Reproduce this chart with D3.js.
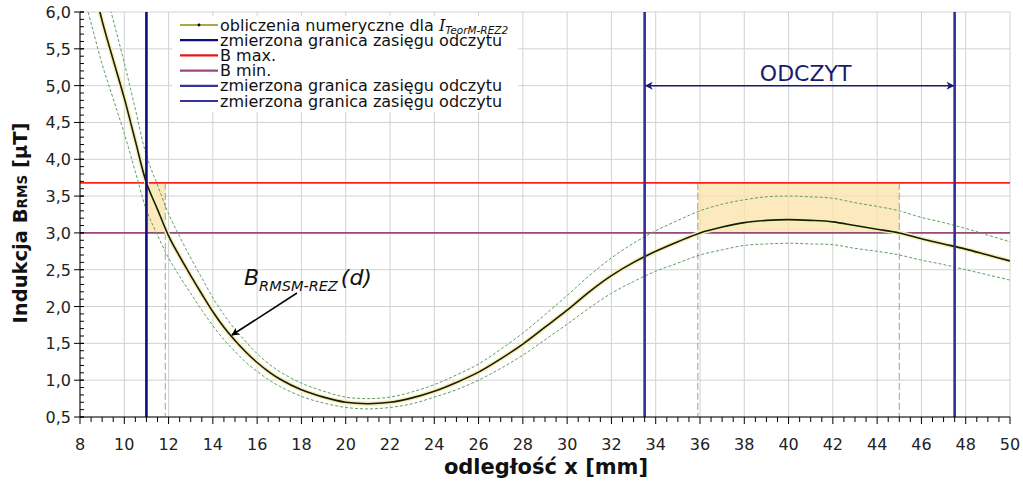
<!DOCTYPE html>
<html>
<head>
<meta charset="utf-8">
<script src="https://cdn.jsdelivr.net/npm/d3@7"></script>
<style>
  html, body { margin: 0; padding: 0; background: #ffffff; }
  svg { display: block; }
</style>
</head>
<body>
<script>
// odległość x [mm]
const xValues = [8, 8.5, 9, 9.5, 10, 10.5, 11, 11.5, 12, 12.5, 13, 13.5, 14, 14.5, 15, 15.5, 16, 16.5, 17,
  18, 19, 20, 21, 22, 23, 24, 25, 26, 27, 28, 29, 30, 31, 32, 33, 34, 35, 36, 37, 38, 39, 40,
  41, 42, 43, 44, 45, 46, 47, 48, 49, 50];
// B_RMS [uT] - obliczenia numeryczne
const bMain = [7.1, 6.5, 5.88, 5.35, 4.83, 4.25, 3.68, 3.32, 2.96, 2.68, 2.42, 2.17, 1.93, 1.72, 1.54, 1.38, 1.24, 1.12, 1.02,
  0.87, 0.77, 0.70, 0.68, 0.70, 0.76, 0.85, 0.97, 1.11, 1.29, 1.49, 1.72, 1.95, 2.20, 2.42, 2.60, 2.75, 2.88, 3.0, 3.08, 3.14, 3.17, 3.18,
  3.17, 3.15, 3.10, 3.05, 3.0, 2.92, 2.85, 2.78, 2.70, 2.62];
// górna i dolna granica (linie kreskowane)
const bUpper = [7.81, 7.15, 6.47, 5.89, 5.31, 4.68, 4.05, 3.65, 3.26, 2.95, 2.66, 2.39, 2.12, 1.89, 1.69, 1.52, 1.36, 1.23, 1.12,
  0.96, 0.85, 0.77, 0.75, 0.77, 0.84, 0.94, 1.07, 1.22, 1.42, 1.64, 1.89, 2.15, 2.42, 2.66, 2.86, 3.03, 3.17, 3.30, 3.39, 3.45, 3.49, 3.50,
  3.49, 3.47, 3.41, 3.36, 3.30, 3.21, 3.14, 3.06, 2.97, 2.88];
const bLower = [6.39, 5.85, 5.29, 4.82, 4.35, 3.83, 3.31, 2.97, 2.66, 2.41, 2.18, 1.95, 1.74, 1.55, 1.39, 1.24, 1.12, 1.01, 0.92,
  0.78, 0.69, 0.63, 0.61, 0.63, 0.68, 0.77, 0.87, 1.00, 1.16, 1.34, 1.55, 1.76, 1.98, 2.18, 2.34, 2.48, 2.59, 2.70, 2.77, 2.83, 2.85, 2.86,
  2.85, 2.84, 2.79, 2.75, 2.70, 2.63, 2.57, 2.50, 2.43, 2.36];

const xTicks = [8, 10, 12, 14, 16, 18, 20, 22, 24, 26, 28, 30, 32, 34, 36, 38, 40, 42, 44, 46, 48, 50];
const yTicks = [0.5, 1.0, 1.5, 2.0, 2.5, 3.0, 3.5, 4.0, 4.5, 5.0, 5.5, 6.0];

const bMax = 3.68;
const bMin = 3.0;
const boundaries = [11, 33.5, 47.5];
const crossings = [11.85, 35.9, 45];
const readRange = [33.5, 47.5];
const readLevel = 5.0;
const shaded = [[11, 11.85], [35.9, 45]];

const legendItems = [
  { label: 'obliczenia numeryczne dla ', sym: 'I', sub: 'TeorM-REZ2', color: '#8c8c10', dot: true },
  { label: 'zmierzona granica zasięgu odczytu', color: '#0c0c80' },
  { label: 'B max.', color: '#e81818' },
  { label: 'B min.', color: '#9a4a78' },
  { label: 'zmierzona granica zasięgu odczytu', color: '#34349a' },
  { label: 'zmierzona granica zasięgu odczytu', color: '#34349a' }
];

const width = 1023;
const height = 489;
const margin = { top: 12, right: 13, bottom: 72, left: 80 };
const innerWidth = width - margin.left - margin.right;
const innerHeight = height - margin.top - margin.bottom;
const font = 'Verdana, "DejaVu Sans", sans-serif';

const svg = d3.select('body').append('svg')
  .attr('width', width)
  .attr('height', height)
  .style('background', '#ffffff');

const defs = svg.append('defs');
defs.append('clipPath').attr('id', 'plot-clip')
  .append('rect').attr('width', innerWidth).attr('height', innerHeight);
[['arrow-navy', '#1a1a70'], ['arrow-black', '#000000']].forEach(([id, c]) => {
  defs.append('marker')
    .attr('id', id)
    .attr('viewBox', '0 0 10 10')
    .attr('refX', 9).attr('refY', 5)
    .attr('markerWidth', 10).attr('markerHeight', 8)
    .attr('markerUnits', 'userSpaceOnUse')
    .attr('orient', 'auto-start-reverse')
    .append('path').attr('d', 'M0,0 L10,5 L0,10 L3,5 Z').attr('fill', c);
});

const chart = svg.append('g').attr('transform', `translate(${margin.left},${margin.top})`);

const x = d3.scaleLinear().domain([8, 50]).range([0, innerWidth]);
const y = d3.scaleLinear().domain([0.5, 6.0]).range([innerHeight, 0]);

// grid
chart.append('g').attr('stroke', '#d2d2d2').attr('stroke-width', 1)
  .selectAll('line.v').data(xTicks).enter().append('line')
  .attr('x1', d => x(d)).attr('x2', d => x(d)).attr('y1', 0).attr('y2', innerHeight);
chart.append('g').attr('stroke', '#d2d2d2').attr('stroke-width', 1)
  .selectAll('line.h').data(yTicks).enter().append('line')
  .attr('x1', 0).attr('x2', innerWidth).attr('y1', d => y(d)).attr('y2', d => y(d));

const plot = chart.append('g').attr('clip-path', 'url(#plot-clip)');

// shaded ranges
plot.selectAll('rect.shade').data(shaded).enter().append('rect')
  .attr('x', d => x(d[0]))
  .attr('width', d => x(d[1]) - x(d[0]))
  .attr('y', y(bMax))
  .attr('height', y(bMin) - y(bMax))
  .attr('fill', '#fbe3a8')
  .attr('opacity', 0.75);

// dashed crossing lines
plot.selectAll('line.cross').data(crossings).enter().append('line')
  .attr('x1', d => x(d)).attr('x2', d => x(d))
  .attr('y1', y(bMax)).attr('y2', innerHeight)
  .attr('stroke', '#a0a0a0').attr('stroke-width', 1)
  .attr('stroke-dasharray', '7,3');

// B max / B min
plot.append('line').attr('x1', 0).attr('x2', innerWidth)
  .attr('y1', y(bMax)).attr('y2', y(bMax))
  .attr('stroke', '#ff2020').attr('stroke-width', 1.6);
plot.append('line').attr('x1', 0).attr('x2', innerWidth)
  .attr('y1', y(bMin)).attr('y2', y(bMin))
  .attr('stroke', '#9a4a78').attr('stroke-width', 1.6);

const line = (vals) => d3.line()
  .x((d, i) => x(xValues[i]))
  .y(d => y(d))
  .curve(d3.curveCatmullRom)(vals);

// tolerance bands
[bUpper, bLower].forEach(vals => {
  plot.append('path').attr('d', line(vals))
    .attr('fill', 'none')
    .attr('stroke', '#5f9f62')
    .attr('stroke-width', 1)
    .attr('stroke-dasharray', '3,2');
});

// main curve
plot.append('path').attr('d', line(bMain))
  .attr('fill', 'none').attr('stroke', '#f2f0b8').attr('stroke-width', 4.5);
plot.append('path').attr('d', line(bMain))
  .attr('fill', 'none').attr('stroke', '#1c1a04').attr('stroke-width', 1.6);

// measured boundaries
plot.selectAll('line.bound').data(boundaries).enter().append('line')
  .attr('x1', d => x(d)).attr('x2', d => x(d))
  .attr('y1', 0).attr('y2', innerHeight)
  .attr('stroke', (d, i) => i === 0 ? '#0c0c80' : '#30309a')
  .attr('stroke-width', 2.6);

// ODCZYT arrow
chart.append('line')
  .attr('x1', x(readRange[0]) + 1).attr('x2', x(readRange[1]) - 1)
  .attr('y1', y(readLevel)).attr('y2', y(readLevel))
  .attr('stroke', '#1a1a70').attr('stroke-width', 1.5)
  .attr('marker-start', 'url(#arrow-navy)')
  .attr('marker-end', 'url(#arrow-navy)');
chart.append('text')
  .attr('x', x((readRange[0] + readRange[1]) / 2) + 6)
  .attr('y', y(readLevel) - 5)
  .attr('text-anchor', 'middle')
  .attr('font-family', font)
  .attr('font-size', 22)
  .attr('fill', '#1a1a6e')
  .text('ODCZYT');

// curve annotation
chart.append('line')
  .attr('x1', 217).attr('x2', 152)
  .attr('y1', 281).attr('y2', 323)
  .attr('stroke', '#000').attr('stroke-width', 1.5)
  .attr('marker-end', 'url(#arrow-black)');
const ann = chart.append('text')
  .attr('x', 164).attr('y', 273)
  .attr('font-family', font)
  .attr('font-style', 'italic')
  .attr('font-size', 22)
  .attr('fill', '#111');
ann.append('tspan').text('B');
ann.append('tspan').attr('font-size', 14.5).attr('dy', 6).text('RMSM-REZ');
ann.append('tspan').attr('dy', -6).attr('dx', 3).text('(d)');

// axes
const xAxis = chart.append('g').attr('transform', `translate(0,${innerHeight})`);
xAxis.append('line').attr('x1', 0).attr('x2', innerWidth).attr('stroke', '#000');
xAxis.selectAll('line.minor').data(d3.range(8, 50.01, 0.5)).enter().append('line')
  .attr('x1', d => x(d)).attr('x2', d => x(d))
  .attr('y1', 0).attr('y2', d => (Math.abs(d % 2) < 1e-6 ? 7 : 5))
  .attr('stroke', '#000');
xAxis.selectAll('text').data(xTicks).enter().append('text')
  .attr('x', d => x(d)).attr('y', 33)
  .attr('text-anchor', 'middle')
  .attr('font-family', font).attr('font-size', 16).attr('fill', '#222')
  .text(d => d);

const yAxis = chart.append('g');
yAxis.append('line').attr('y1', 0).attr('y2', innerHeight).attr('stroke', '#000');
yAxis.selectAll('line.minor').data(d3.range(0.5, 6.001, 0.1)).enter().append('line')
  .attr('y1', d => y(d)).attr('y2', d => y(d))
  .attr('x1', 0).attr('x2', 4)
  .attr('stroke', '#000');
yAxis.selectAll('line.major').data(yTicks).enter().append('line')
  .attr('y1', d => y(d)).attr('y2', d => y(d))
  .attr('x1', -6).attr('x2', 4)
  .attr('stroke', '#000');
yAxis.selectAll('text').data(yTicks).enter().append('text')
  .attr('x', -9).attr('y', d => y(d) + 6)
  .attr('text-anchor', 'end')
  .attr('font-family', font).attr('font-size', 16).attr('fill', '#222')
  .text(d => d.toFixed(1).replace('.', ','));

// legend
const legend = chart.append('g').attr('transform', 'translate(96,4)');
legend.append('rect').attr('x', -4).attr('y', 0).attr('width', 346).attr('height', 96).attr('fill', '#fff');
legendItems.forEach((d, i) => {
  const cy = 9 + i * 15.2;
  legend.append('line').attr('x1', 4).attr('x2', 42).attr('y1', cy).attr('y2', cy)
    .attr('stroke', d.color).attr('stroke-width', i === 0 ? 1.5 : 2.2);
  if (d.dot) legend.append('circle').attr('cx', 23).attr('cy', cy).attr('r', 1.4).attr('fill', '#000');
  const t = legend.append('text').attr('x', 44).attr('y', cy + 5.5)
    .attr('font-family', font).attr('font-size', 16).attr('fill', '#111');
  t.append('tspan').text(d.label);
  if (d.sym) {
    t.append('tspan').attr('font-family', '"DejaVu Serif", serif').attr('font-style', 'italic').text(d.sym);
    t.append('tspan').attr('font-style', 'italic').attr('font-size', 10.5).attr('dy', 3).text(d.sub);
  }
});

// axis titles
svg.append('text')
  .attr('x', 546)
  .attr('y', 474)
  .attr('text-anchor', 'middle')
  .attr('font-family', font).attr('font-weight', 'bold').attr('font-size', 21).attr('fill', '#111')
  .text('odległość x [mm]');

const yTitle = svg.append('text')
  .attr('transform', 'translate(27,223) rotate(-90)')
  .attr('text-anchor', 'middle')
  .attr('font-family', font).attr('font-weight', 'bold').attr('font-size', 19.5).attr('fill', '#111');
yTitle.append('tspan').text('Indukcja B');
yTitle.append('tspan').attr('font-size', 13.5).text('RMS');
yTitle.append('tspan').text(' [µT]');
</script>
</body>
</html>
